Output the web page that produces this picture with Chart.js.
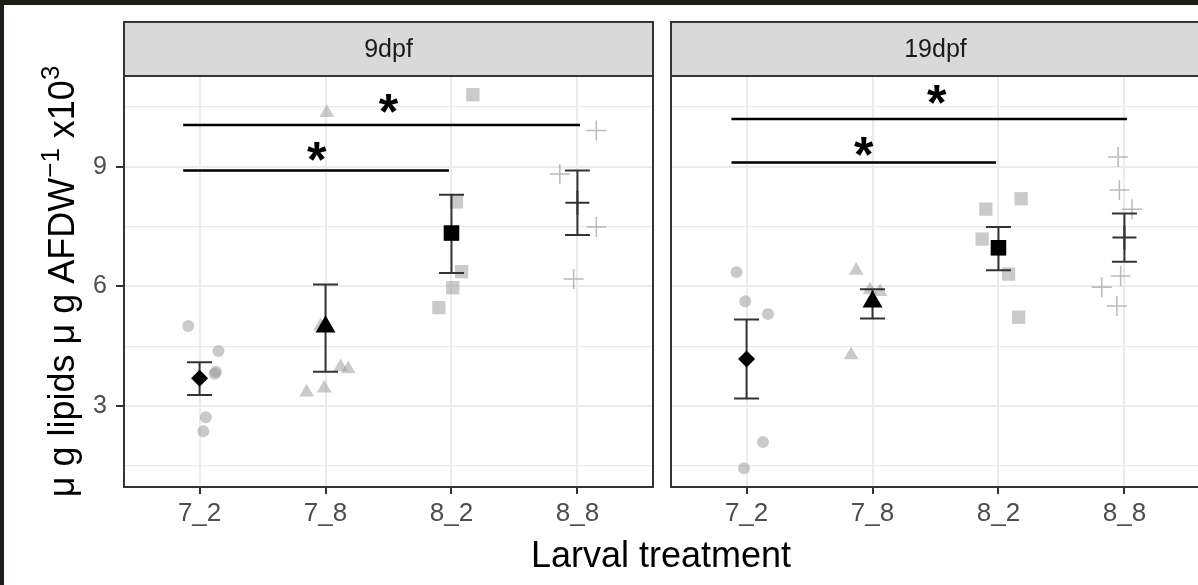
<!DOCTYPE html>
<html lang="en">
<head>
<meta charset="UTF-8">
<title>Lipid content by larval treatment</title>
<script src="https://cdn.jsdelivr.net/npm/chart.js"></script>
<style>
    html, body { margin: 0; padding: 0; }
    body {
        width: 1198px;
        height: 585px;
        overflow: hidden;
        position: relative;
        background: #1b1d16;
        font-family: "Liberation Sans", Arial, sans-serif;
    }
    #sheet { position: absolute; left: 4px; top: 5px; right: 0; bottom: 0; background: #fff; }
    canvas { position: absolute; top: 0; }
    #left { left: 0; }
    #right { left: 661px; }
    #xtitle {
        position: absolute;
        left: 461px;
        width: 400px;
        top: 537px;
        text-align: center;
        font-size: 36px;
        line-height: 36px;
        color: #000;
    }
</style>
</head>
<body>
<div id="sheet"></div>
<canvas id="left" width="662" height="585"></canvas>
<canvas id="right" width="546" height="585"></canvas>
<div id="xtitle">Larval treatment</div>

<script>
    const categories = ['7_2', '7_8', '8_2', '8_8'];
    const panelLabels = ['9dpf', '19dpf'];
    const yTicks = [3, 6, 9];
    const yMinorTicks = [1.5, 4.5, 7.5, 10.5];

    // 9 dpf - individual measurements and their horizontal jitter
    const lipid9_72 = [5.01, 4.38, 3.86, 3.81, 2.72, 2.37];
    const jitter9_72 = [-0.09, 0.15, 0.13, 0.12, 0.05, 0.03];
    const lipid9_78 = [10.36, 5.00, 3.35, 3.45, 3.98, 3.93];
    const jitter9_78 = [0.01, -0.04, -0.15, -0.01, 0.12, 0.18];
    const lipid9_82 = [10.81, 8.12, 6.37, 5.97, 5.47];
    const jitter9_82 = [0.17, 0.04, 0.08, 0.01, -0.10];
    const lipid9_88 = [9.91, 8.82, 7.49, 6.19];
    const jitter9_88 = [0.15, -0.14, 0.15, -0.03];

    // 9 dpf - group mean and standard error limits
    const mean9 = [3.70, 4.99, 7.34, 8.10];
    const seLow9 = [3.28, 3.86, 6.34, 7.29];
    const seHigh9 = [4.10, 6.05, 8.30, 8.91];

    // 19 dpf - individual measurements and their horizontal jitter
    const lipid19_72 = [6.36, 5.63, 5.31, 2.10, 1.44];
    const jitter19_72 = [-0.08, -0.01, 0.17, 0.13, -0.02];
    const lipid19_78 = [6.40, 4.28, 5.91, 5.87];
    const jitter19_78 = [-0.13, -0.17, -0.02, 0.06];
    const lipid19_82 = [8.20, 7.94, 7.19, 6.31, 5.23];
    const jitter19_82 = [0.18, -0.10, -0.13, 0.08, 0.16];
    const lipid19_88 = [9.25, 8.42, 7.94, 6.26, 5.98, 5.51];
    const jitter19_88 = [-0.05, -0.04, 0.06, -0.03, -0.18, -0.06];

    // 19 dpf - group mean and standard error limits
    const mean19 = [4.18, 5.62, 6.97, 7.23];
    const seLow19 = [3.19, 5.20, 6.41, 6.62];
    const seHigh19 = [5.17, 5.93, 7.49, 7.83];

    // significance brackets: x1..x2 on the category axis, y level, asterisk spot
    const sig9 = [
        { x1: 0.87, x2: 4.02, y: 10.05, starX: 2.50, starY: 10.60 },
        { x1: 0.87, x2: 2.98, y: 8.91, starX: 1.93, starY: 9.38 }
    ];
    const sig19 = [
        { x1: 0.88, x2: 4.02, y: 10.20, starX: 2.51, starY: 10.81 },
        { x1: 0.88, x2: 2.98, y: 9.11, starX: 1.93, starY: 9.51 }
    ];

    // y axis title, split so the exponents can be raised
    const yTitleParts = [
        { text: 'μ g lipids μ g AFDW', sup: false },
        { text: '−1', sup: true },
        { text: ' x10', sup: false },
        { text: '3', sup: true }
    ];

    const rawStyles = ['circle', 'triangle', 'rect', 'cross'];
    const rawRadius = [6, 8.5, 9.4, 10];
    const meanStyles = ['rectRot', 'triangle', 'rect', 'cross'];
    const meanRadius = [8.5, 11.5, 11, 12];

    // shared y limits: data extent padded by 5% on both ends
    const allValues = [].concat(lipid9_72, lipid9_78, lipid9_82, lipid9_88,
        lipid19_72, lipid19_78, lipid19_82, lipid19_88);
    const vMin = Math.min(...allValues), vMax = Math.max(...allValues);
    const yMin = vMin - (vMax - vMin) * 0.05;
    const yMax = vMax + (vMax - vMin) * 0.05;

    const FONT = '"Liberation Sans", Arial, sans-serif';
    Chart.defaults.font.family = FONT;

    function rawDataset(values, jitter, cat) {
        const style = rawStyles[cat];
        const isCross = style === 'cross';
        return {
            data: values.map((v, i) => ({ x: cat + 1 + jitter[i], y: v })),
            pointStyle: style,
            pointRadius: rawRadius[cat],
            backgroundColor: 'rgba(150,150,150,0.5)',
            borderColor: isCross ? 'rgba(130,130,130,0.55)' : 'rgba(0,0,0,0)',
            borderWidth: isCross ? 1.5 : 0,
            order: 3
        };
    }

    function drawYTitle(chart) {
        const ctx = chart.ctx, a = chart.chartArea;
        const mainSize = 36, supSize = 26;
        ctx.save();
        ctx.translate(74, (a.top + a.bottom) / 2);
        ctx.rotate(-Math.PI / 2);
        ctx.fillStyle = '#000';
        ctx.textBaseline = 'alphabetic';
        ctx.textAlign = 'left';
        const widths = yTitleParts.map(p => {
            ctx.font = (p.sup ? supSize : mainSize) + 'px ' + FONT;
            return ctx.measureText(p.text).width;
        });
        let x = -widths.reduce((s, w) => s + w, 0) / 2;
        yTitleParts.forEach((p, i) => {
            ctx.font = (p.sup ? supSize : mainSize) + 'px ' + FONT;
            ctx.fillText(p.text, x, p.sup ? -15 : 0);
            x += widths[i];
        });
        ctx.restore();
    }

    function panelExtras(label, lo, hi, sig, isFirst) {
        return {
            id: 'panelExtras',
            beforeDatasetDraw(chart, args) {
                // error bars sit under the mean markers
                if (args.index !== 4) return;
                const ctx = chart.ctx, xs = chart.scales.x, ys = chart.scales.y;
                ctx.save();
                ctx.strokeStyle = '#333';
                ctx.lineWidth = 2;
                lo.forEach((l, i) => {
                    const x = xs.getPixelForValue(i + 1);
                    const y1 = ys.getPixelForValue(l);
                    const y2 = ys.getPixelForValue(hi[i]);
                    ctx.beginPath();
                    ctx.moveTo(x, y1); ctx.lineTo(x, y2);
                    ctx.moveTo(x - 12.5, y1); ctx.lineTo(x + 12.5, y1);
                    ctx.moveTo(x - 12.5, y2); ctx.lineTo(x + 12.5, y2);
                    ctx.stroke();
                });
                ctx.restore();
            },
            afterDatasetsDraw(chart) {
                const ctx = chart.ctx, xs = chart.scales.x, ys = chart.scales.y;
                ctx.save();
                ctx.strokeStyle = '#000';
                ctx.lineWidth = 2.5;
                ctx.fillStyle = '#000';
                ctx.font = 'bold 50px ' + FONT;
                ctx.textAlign = 'center';
                ctx.textBaseline = 'alphabetic';
                sig.forEach(s => {
                    const y = ys.getPixelForValue(s.y);
                    ctx.beginPath();
                    ctx.moveTo(xs.getPixelForValue(s.x1), y);
                    ctx.lineTo(xs.getPixelForValue(s.x2), y);
                    ctx.stroke();
                    const m = ctx.measureText('*');
                    const cy = ys.getPixelForValue(s.starY);
                    const base = cy - (m.actualBoundingBoxDescent - m.actualBoundingBoxAscent) / 2;
                    ctx.fillText('*', xs.getPixelForValue(s.starX), base);
                });
                ctx.restore();
            },
            afterDraw(chart) {
                const ctx = chart.ctx, a = chart.chartArea;
                const stripTop = 22;
                ctx.save();
                // facet strip
                ctx.fillStyle = '#d9d9d9';
                ctx.fillRect(a.left, stripTop, a.right - a.left, a.top - stripTop);
                ctx.strokeStyle = '#333';
                ctx.lineWidth = 2;
                ctx.strokeRect(a.left, stripTop, a.right - a.left, a.top - stripTop);
                ctx.fillStyle = '#1a1a1a';
                ctx.font = '25px ' + FONT;
                ctx.textAlign = 'center';
                ctx.textBaseline = 'middle';
                ctx.fillText(label, (a.left + a.right) / 2, (stripTop + a.top) / 2 + 1);
                // panel frame
                ctx.strokeRect(a.left, a.top, a.right - a.left, a.bottom - a.top);
                ctx.restore();
                if (isFirst) drawYTitle(chart);
            }
        };
    }

    function makePanel(canvasId, label, raws, jitters, means, lo, hi, sig, isFirst) {
        const datasets = raws.map((vals, c) => rawDataset(vals, jitters[c], c));
        datasets.push({
            data: means.map((m, i) => ({ x: i + 1, y: m })),
            pointStyle: meanStyles,
            pointRadius: meanRadius,
            backgroundColor: '#000',
            borderColor: '#333',
            borderWidth: [0, 0, 0, 2],
            order: 1
        });

        return new Chart(document.getElementById(canvasId), {
            type: 'scatter',
            data: { datasets },
            options: {
                responsive: false,
                animation: false,
                events: [],
                layout: {
                    autoPadding: false,
                    padding: { top: 76, bottom: 0, left: 0, right: isFirst ? 9 : 7 }
                },
                plugins: { legend: { display: false }, tooltip: { enabled: false } },
                scales: {
                    x: {
                        type: 'linear',
                        min: 0.4,
                        max: 4.6,
                        afterBuildTicks: s => { s.ticks = categories.map((c, i) => ({ value: i + 1 })); },
                        afterFit: s => { s.height = 98; },
                        border: { display: false },
                        grid: { color: '#ebebeb', lineWidth: 2, tickColor: '#333', tickWidth: 2, tickLength: 7 },
                        ticks: {
                            color: '#4d4d4d',
                            font: { size: 26 },
                            padding: 4,
                            maxRotation: 0,
                            callback: v => categories[v - 1]
                        }
                    },
                    y: {
                        type: 'linear',
                        min: yMin,
                        max: yMax,
                        afterBuildTicks: s => {
                            s.ticks = yMinorTicks.concat(yTicks).sort((p, q) => p - q).map(v => ({ value: v }));
                        },
                        afterFit: s => { s.width = isFirst ? 124 : 10; },
                        border: { display: false },
                        grid: {
                            color: '#ebebeb',
                            lineWidth: c => yTicks.includes(c.tick.value) ? 2 : 1.2,
                            drawTicks: isFirst,
                            tickColor: c => yTicks.includes(c.tick.value) ? '#333' : 'rgba(0,0,0,0)',
                            tickWidth: 2,
                            tickLength: 8
                        },
                        ticks: {
                            display: isFirst,
                            color: '#4d4d4d',
                            font: { size: 25 },
                            padding: 9,
                            callback: v => yTicks.includes(v) ? String(v) : ''
                        }
                    }
                }
            },
            plugins: [panelExtras(label, lo, hi, sig, isFirst)]
        });
    }

    makePanel('left', panelLabels[0],
        [lipid9_72, lipid9_78, lipid9_82, lipid9_88],
        [jitter9_72, jitter9_78, jitter9_82, jitter9_88],
        mean9, seLow9, seHigh9, sig9, true);

    makePanel('right', panelLabels[1],
        [lipid19_72, lipid19_78, lipid19_82, lipid19_88],
        [jitter19_72, jitter19_78, jitter19_82, jitter19_88],
        mean19, seLow19, seHigh19, sig19, false);
</script>
</body>
</html>
